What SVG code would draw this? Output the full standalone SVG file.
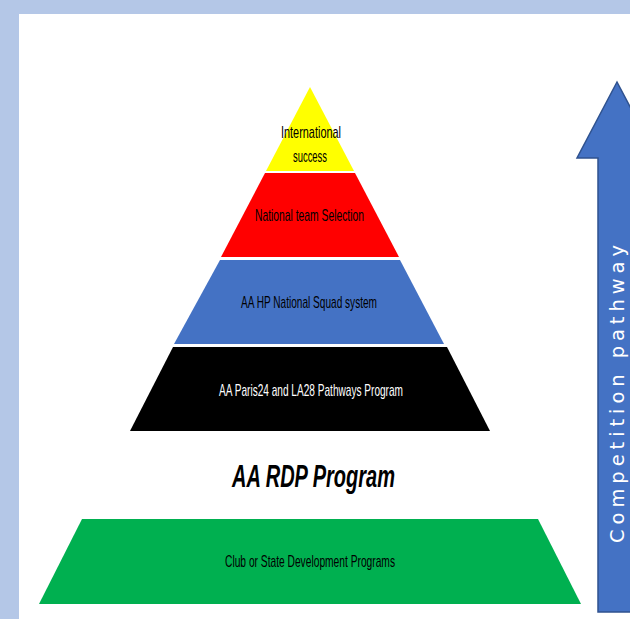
<svg xmlns="http://www.w3.org/2000/svg" width="630" height="619" viewBox="0 0 630 619">
  <style>
    .lbl { font-family: "Liberation Sans", Arial, sans-serif; font-size: 17px; fill: #000; text-anchor: middle; }
    .wht { fill: #fff; }
    .title { font-family: "Liberation Sans", Arial, sans-serif; font-size: 31px; font-weight: bold; font-style: italic; fill: #000; text-anchor: middle; }
    .arrowtxt { font-family: "DejaVu Sans", Verdana, sans-serif; font-size: 19.5px; fill: #fff; text-anchor: middle; }
  </style>
  <rect x="0" y="0" width="630" height="619" fill="#B4C7E7"/>
  <rect x="19" y="14" width="611" height="605" fill="#FFFFFF"/>

  <g id="level-international">
    <polygon points="310,87 354,171 266,171" fill="#FFFF00"/>
    <text class="lbl" x="311" y="138" textLength="60" lengthAdjust="spacingAndGlyphs">International</text>
    <text class="lbl" x="310" y="162" textLength="34" lengthAdjust="spacingAndGlyphs">success</text>
  </g>
  <g id="level-national-team">
    <polygon points="265,173 355,173 399,257 221,257" fill="#FF0000"/>
    <text class="lbl" x="309.5" y="221" textLength="109" lengthAdjust="spacingAndGlyphs">National team Selection</text>
  </g>
  <g id="level-hp-squad">
    <polygon points="220,260 400,260 444,344 174,344" fill="#4472C4"/>
    <text class="lbl" x="309" y="308" textLength="136" lengthAdjust="spacingAndGlyphs">AA HP National Squad system</text>
  </g>
  <g id="level-pathways">
    <polygon points="173,347 447,347 490,431 130,431" fill="#000000"/>
    <text class="lbl wht" x="311" y="396" textLength="184" lengthAdjust="spacingAndGlyphs">AA Paris24 and LA28 Pathways Program</text>
  </g>
  <g id="rdp-title">
    <text class="title" x="313.5" y="487" textLength="163" lengthAdjust="spacingAndGlyphs">AA RDP Program</text>
  </g>
  <g id="level-club-state">
    <polygon points="82,519 538,519 581,604 39,604" fill="#00B050"/>
    <text class="lbl" x="310" y="567" textLength="170" lengthAdjust="spacingAndGlyphs">Club or State Development Programs</text>
  </g>

  <g id="connectors">
    <g id="competition-arrow">
      <polygon points="617,82 657,158 636,158 636,612 598,612 598,158 577,158" fill="#4472C4" stroke="#2F528F" stroke-width="1.5"/>
      <text class="arrowtxt" transform="translate(624,394) rotate(-90)" x="0" y="0" textLength="298" lengthAdjust="spacing">Competition  pathway</text>
    </g>
  </g>
</svg>
